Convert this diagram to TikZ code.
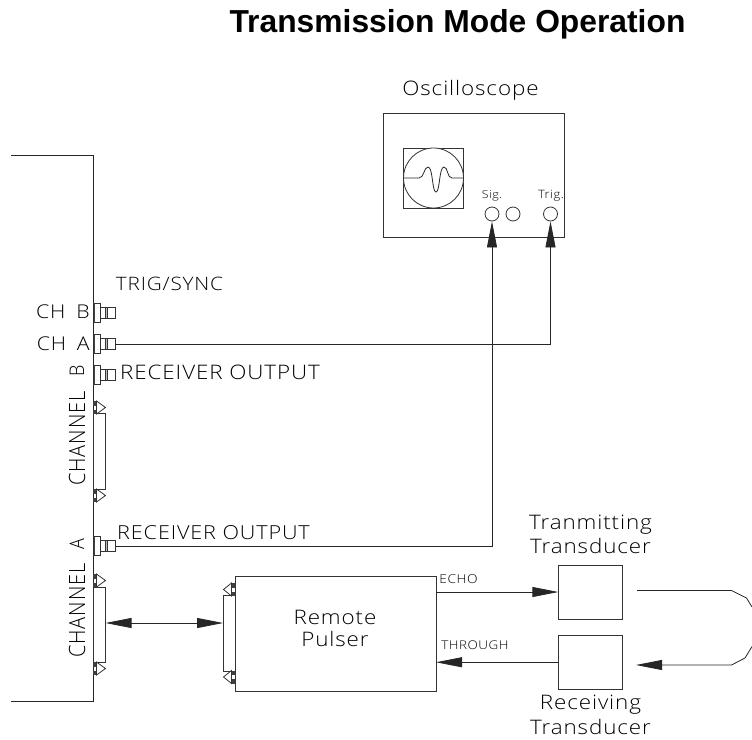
\documentclass[tikz,border=0pt]{standalone}
\usepackage{fontspec}
\setmainfont{Liberation Sans}
\newfontfamily\cadfont[LetterSpace=4]{Open Sans Light}
\usetikzlibrary{arrows.meta}
\tikzset{
  wire/.style={line width=0.8pt,draw=black!85},
  box/.style={line width=0.8pt,draw=black!80,fill=white},
  solidtip/.style={-{Triangle[length=26pt,width=10pt]}},
  cad/.style={font=\cadfont\fontsize{#1}{#1}\selectfont,inner sep=0pt,text=black,xscale=1.12,transform shape},
  cad/.default=20,
  titletext/.style={font=\bfseries\fontsize{31.8}{32}\selectfont,inner sep=0pt}
}
\newcommand{\bnc}[2]{%
  \begin{scope}[shift={(93,#2)}]
    \fill[black!75] (0,-9.5) rectangle (2,9.5);
    \draw[box,fill=none] (0,-9.5) rectangle (7.5,9.5);
    \draw[box,fill=none] (7.5,-5.5) rectangle (22.5,5.5);
    \draw[box,fill=black!25] (12,-5.5) rectangle (14.5,5.5);
    \coordinate (#1) at (22.5,0);
  \end{scope}}
\newcommand{\dsub}[4]{%
  \draw[box] (93,#2) rectangle (105.5,#3);
  \coordinate (#1) at (105.5,{(#2+#3)/2});
  \foreach \yy in {#4}{
    \fill[black!75] (93,\yy-6.5) rectangle (96.5,\yy-2);
    \fill[black!75] (93,\yy+2) rectangle (96.5,\yy+6.5);
    \draw[box,fill=none] (96.5,\yy-6.5) -- (105.5,\yy) -- (96.5,\yy+6.5) -- cycle;
  }}
\begin{document}
\begin{tikzpicture}[x=1pt,y=-1pt]
\useasboundingbox (0,0) rectangle (752,739);
\node[titletext,anchor=base] (title) at (457.5,32) {Transmission Mode Operation};

% panel
\coordinate (pa) at (11,155.5);
\coordinate (pb) at (93,155.5);
\coordinate (pc) at (93,701);
\coordinate (pd) at (11,701);
\draw[wire] (pa) -- (pb) -- (pc) -- (pd);

\bnc{chb}{312.5}
\bnc{cha}{344}
\bnc{rb}{375}
\bnc{ra}{546}
\dsub{cb}{413}{489}{407.5,495.5}
\dsub{ca}{587}{662}{580.5,668.5}

\node[cad=18.5] (ttrig) at (169.5,284) {TRIG/SYNC};
\node[cad=19,anchor=east] (tchb) at (90,312) {CH\hspace{4pt} B};
\node[cad=19,anchor=east] (tcha) at (90,344) {CH\hspace{4pt} A};
\node[cad=18,rotate=90] (tbb) at (77,371) {B};
\node[cad] (trb) at (220,372) {RECEIVER OUTPUT};
\node[cad,rotate=90] (tcb) at (77,438.5) {CHANNEL};
\node[cad=18,rotate=90] (taa) at (77,544) {A};
\node[cad=19.3] (tra) at (213.5,533) {RECEIVER OUTPUT};
\node[cad,rotate=90] (tca) at (77,610.5) {CHANNEL};

% oscilloscope
\node[cad] (tosc) at (470.5,90) {Oscilloscope};
\node[box,minimum width=181pt,minimum height=124pt,inner sep=0pt] (osc) at (473.5,175) {};
\node[box,minimum width=60pt,minimum height=60pt,inner sep=0pt] (screen) at (433.5,178) {};
\node[box,circle,minimum size=60pt,inner sep=0pt] (tube) at (433.5,178) {};
\draw[wire] (tube.west) -- (419,178) .. controls (424,178) and (424,167) .. (428,167)
  .. controls (433,167) and (432,192) .. (436,192)
  .. controls (440,192) and (439,167) .. (444,167)
  .. controls (448,167) and (447,178) .. (452,178) -- (tube.east);
\node[box,circle,minimum size=14pt,inner sep=0pt] (sig) at (492,214) {};
\node[box,circle,minimum size=14pt,inner sep=0pt] (mid) at (513,214) {};
\node[box,circle,minimum size=14pt,inner sep=0pt] (trg) at (550.5,214) {};
\node[cad=11] (tsig) at (492,196) {Sig.};
\node[cad=11.5] (ttrg) at (551,196) {Trig.};

% wires to scope
\draw[wire,solidtip] (cha) -| (trg.south);
\draw[wire,solidtip] (ra) -| (sig.south);

% remote pulser
\node[box,minimum width=201pt,minimum height=115pt,inner sep=0pt] (rp) at (335.5,633.5) {};
\node[box,minimum width=11.5pt,minimum height=75.5pt,inner sep=0pt] (rpc) at (229.25,633.5) {};
\foreach \yy in {589.5,677}{
  \fill[black!75] (231.5,\yy-6.5) rectangle (235,\yy-2);
  \fill[black!75] (231.5,\yy+2) rectangle (235,\yy+6.5);
  \draw[box,fill=none] (231.5,\yy-6.5) -- (223.5,\yy) -- (231.5,\yy+6.5) -- cycle;
}
\node[cad] (trem) at (335,617) {Remote};
\node[cad] (tpul) at (335,639) {Pulser};
\coordinate (cam) at (105.5,623);
\draw[wire,{Triangle[length=26pt,width=10pt]}-{Triangle[length=26pt,width=10pt]}] (cam) -- (cam -| rpc.west);

% transducers
\node[box,minimum width=63.5pt,minimum height=54pt,inner sep=0pt] (tx) at (590.5,592) {};
\node[box,minimum width=63.5pt,minimum height=54.5pt,inner sep=0pt] (rx) at (590.5,662.25) {};
\coordinate (ecs) at (436,592);
\coordinate (ths) at (436,662.25);
\draw[wire,solidtip] (ecs) -- (tx.west);
\draw[wire,solidtip] (rx.west) -- (ths);
\coordinate (la) at (637,590.5);
\coordinate (lb) at (731.5,590.5);
\coordinate (lc) at (746.5,598);
\coordinate (ld) at (752,607);
\coordinate (le) at (752,646.5);
\coordinate (lf) at (745,658);
\coordinate (lg) at (731.5,665);
\coordinate (lh) at (636,665);
\draw[wire] (la) -- (lb) -- (lc) -- (ld);
\draw[wire,solidtip] (le) -- (lf) -- (lg) -- (lh);
\node[cad=12.3] (tech) at (458.5,579) {ECHO};
\node[cad=12] (tthr) at (475,645) {THROUGH};
\node[cad] (ttx) at (590.5,525) {Tranmitting};
\node[cad] (ttd) at (590.5,546) {Transducer};
\node[cad] (trx) at (590.5,705) {Receiving};
\node[cad] (trd) at (590.5,727) {Transducer};
\end{tikzpicture}
\end{document}
